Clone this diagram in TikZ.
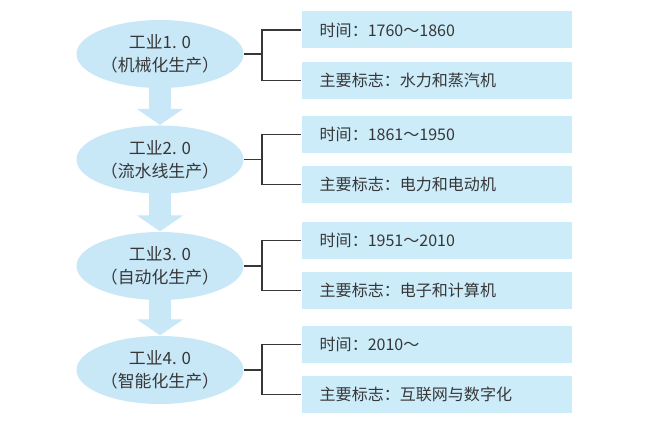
\documentclass[tikz,border=0pt]{standalone}
\usepackage{fontspec}
\newfontfamily\cjk{Noto Sans CJK SC}
\usetikzlibrary{shapes.geometric,arrows.meta}
\tikzset{
every picture/.style={
line width=1pt
}}
\definecolor{paleblue}{RGB}{200,231,247}
\definecolor{boxblue}{RGB}{204,236,250}
\definecolor{ink}{RGB}{55,55,55}

\begin{document}
\begin{tikzpicture}[x=0.025cm, y=-0.025cm,
stage/.style = {ellipse, fill=paleblue, minimum width=3.85cm, minimum height=1.7cm, inner sep=0pt, align=center, text=ink, font=\cjk\fontsize{12pt}{16.5pt}\selectfont},
info/.style = {rectangle, fill=boxblue, anchor=west, minimum height=0.925cm, text width=5.85cm, inner xsep=0.45cm, align=left, text=ink, font=\cjk\fontsize{11.4pt}{13pt}\selectfont},
link/.style = {draw=ink, line width=1.4pt},
flow/.style = {draw=paleblue, line width=0.55cm, -{Triangle[width=1.15cm,length=0.4cm]}}]

\useasboundingbox (0,0) rectangle (647,425);

% stages
\node [stage] (stage1) at (160,54) {工业1. 0\\（机械化生产）};
\node [stage] (stage2) at (160,159.5) {工业2. 0\\（流水线生产）};
\node [stage] (stage3) at (160,266) {工业3. 0\\（自动化生产）};
\node [stage] (stage4) at (160,370) {工业4. 0\\（智能化生产）};

\draw [flow] ([yshift=3mm]stage1.south) -- (stage2.north);
\draw [flow] ([yshift=3mm]stage2.south) -- (stage3.north);
\draw [flow] ([yshift=3mm]stage3.south) -- (stage4.north);

% info boxes
\node [info] (time1) at (301,30) {时间：1760～1860};
\node [info] (sign1) at (301,80.5) {主要标志：水力和蒸汽机};
\node [info] (time2) at (301,134.5) {时间：1861～1950};
\node [info] (sign2) at (301,184.5) {主要标志：电力和电动机};
\node [info] (time3) at (301,240.5) {时间：1951～2010};
\node [info] (sign3) at (301,290.5) {主要标志：电子和计算机};
\node [info] (time4) at (301,344.5) {时间：2010～};
\node [info] (sign4) at (301,394.5) {主要标志：互联网与数字化};

% brackets
\coordinate (fork1) at (262,54);
\coordinate (fork2) at (262,159.5);
\coordinate (fork3) at (262,266);
\coordinate (fork4) at (262,370);
\draw [link] (stage1.east) -- (fork1);
\draw [link] (time1.west) -| (fork1) |- (sign1.west);
\draw [link] (stage2.east) -- (fork2);
\draw [link] (time2.west) -| (fork2) |- (sign2.west);
\draw [link] (stage3.east) -- (fork3);
\draw [link] (time3.west) -| (fork3) |- (sign3.west);
\draw [link] (stage4.east) -- (fork4);
\draw [link] (time4.west) -| (fork4) |- (sign4.west);
\end{tikzpicture}
\end{document}
